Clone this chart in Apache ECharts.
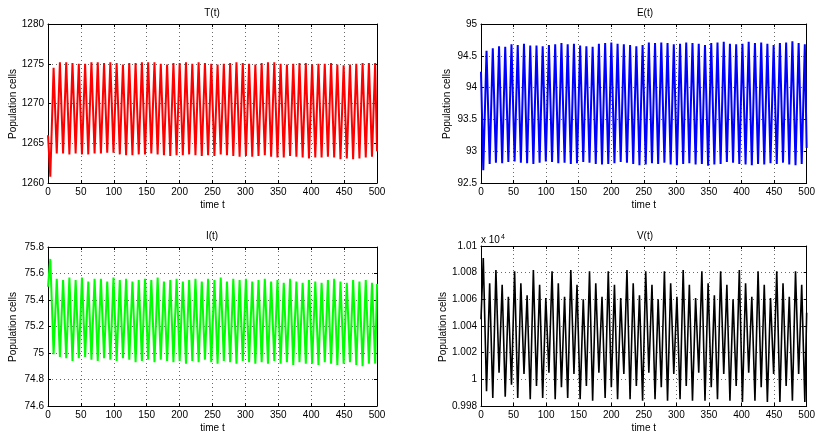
<!DOCTYPE html>
<html><head><meta charset="utf-8">
<script src="https://cdn.jsdelivr.net/npm/echarts@6/dist/echarts.min.js"></script>
<style>html,body{margin:0;padding:0;background:#fff}#c{width:818px;height:434px}</style>
</head><body><div id="c"></div>
<script>
// Extremum times (shared by all panels)
const tExt = [0,3.5,8.5,13.3,18.1,22.9,27.7,32.5,37.2,42.0,46.8,51.6,56.4,61.2,66.0,70.8,75.6,80.4,85.2,90.0,
94.7,99.5,104.3,109.1,113.9,118.7,123.5,128.3,133.1,137.9,142.7,147.4,152.2,157.0,161.8,166.6,171.4,176.2,181.0,185.8,
190.6,195.4,200.1,204.9,209.7,214.5,219.3,224.1,228.9,233.7,238.5,243.3,248.1,252.9,257.7,262.5,267.2,272.0,276.8,281.6,
286.4,291.2,296.0,300.8,305.6,310.4,315.1,319.9,324.7,329.5,334.3,339.1,343.9,348.7,353.5,358.3,363.1,367.9,372.7,377.5,
382.2,387.0,391.8,396.6,401.4,406.2,411.0,415.8,420.6,425.4,430.2,434.9,439.7,444.5,449.3,454.1,458.9,463.7,468.5,473.3,
478.1,482.9,487.7,492.4,497.2,500];

const xTicks = [0,50,100,150,200,250,300,350,400,450,500];

// T(t)
const T_head = [1266.0, 1260.8];
const T_even = [1274.5,1275.2,1275.2,1275.1,1275.0,1275.0,1275.2,1275.2,1275.1,1275.2,
1275.1,1274.9,1275.1,1275.1,1275.2,1275.2,1275.2,1275.0,1274.9,1275.1,
1275.1,1275.2,1275.0,1275.2,1275.1,1275.0,1274.9,1275.0,1275.1,1275.2,
1275.1,1275.0,1274.9,1275.1,1275.2,1275.2,1275.0,1274.9,1275.0,1275.1,
1275.1,1274.9,1275.0,1275.0,1275.1,1274.9,1274.8,1274.9,1275.0,1275.1,
1275.1,1275.1];
const T_odd = [1263.7,1263.7,1263.6,1263.7,1263.6,1263.6,1263.7,1263.7,1263.8,1263.8,
1263.6,1263.5,1263.5,1263.6,1263.6,1263.7,1263.6,1263.5,1263.4,1263.5,
1263.5,1263.6,1263.5,1263.4,1263.5,1263.4,1263.6,1263.5,1263.4,1263.3,
1263.4,1263.3,1263.4,1263.5,1263.3,1263.2,1263.2,1263.4,1263.3,1263.2,
1263.1,1263.2,1263.2,1263.3,1263.2,1263.0,1263.1,1263.0,1263.1,1263.2,
1263.3];
const T_end = 1264.0;
const T_ticks = [1260,1265,1270,1275,1280];

// E(t)
const E_head = [94.25, 92.70];
const E_even = [94.58,94.62,94.65,94.64,94.68,94.67,94.69,94.66,94.66,94.65,
94.67,94.68,94.70,94.68,94.69,94.66,94.65,94.64,94.69,94.70,
94.71,94.69,94.68,94.67,94.65,94.67,94.71,94.70,94.71,94.70,
94.68,94.69,94.71,94.70,94.69,94.67,94.70,94.71,94.72,94.69,
94.68,94.69,94.72,94.70,94.71,94.69,94.67,94.70,94.71,94.73,
94.70,94.68];
const E_odd = [92.80,92.82,92.81,92.83,92.84,92.82,92.81,92.80,92.82,92.84,
92.83,92.81,92.82,92.80,92.81,92.83,92.82,92.80,92.79,92.80,
92.81,92.83,92.82,92.80,92.78,92.79,92.81,92.80,92.82,92.79,
92.78,92.80,92.81,92.79,92.80,92.77,92.79,92.80,92.83,92.82,
92.80,92.79,92.78,92.80,92.79,92.81,92.80,92.82,92.79,92.78,
92.80];
const E_end = 93.05;
const E_ticks = [92.5,93,93.5,94,94.5,95];

// I(t)
const I_head = [75.50, 75.71];
const I_even = [74.99,74.97,74.96,74.94,74.96,74.97,74.95,74.94,74.96,74.95,
74.94,74.96,74.95,74.93,74.94,74.95,74.93,74.95,74.94,74.93,
74.94,74.92,74.94,74.93,74.95,74.93,74.92,74.94,74.93,74.92,
74.94,74.93,74.92,74.93,74.92,74.94,74.92,74.93,74.91,74.93,
74.92,74.92,74.91,74.93,74.92,74.91,74.92,74.93,74.91,74.90,
74.92,74.92];
const I_odd = [75.56,75.55,75.57,75.55,75.57,75.54,75.56,75.56,75.54,75.57,
75.55,75.56,75.54,75.55,75.56,75.55,75.57,75.54,75.55,75.56,
75.54,75.55,75.56,75.54,75.56,75.55,75.57,75.54,75.56,75.55,
75.56,75.54,75.55,75.56,75.54,75.55,75.53,75.56,75.54,75.53,
75.55,75.54,75.53,75.55,75.56,75.54,75.53,75.55,75.54,75.55,
75.53];
const I_end = 75.52;
const I_ticks = [74.6,74.8,75,75.2,75.4,75.6,75.8];

// V(t), in units of 10^4
const V_vals = [1.0045,1.0091,0.9991,1.0072,0.9986,1.0082,1.0005,1.0071,0.9987,1.0062,
0.9996,1.0081,0.9986,1.0072,1.0004,1.0063,0.9985,1.0082,0.9995,1.0071,
0.9986,1.0061,1.0005,1.0081,0.9985,1.0072,0.9994,1.0062,0.9986,1.0082,
1.0004,1.0071,0.9985,1.0060,0.9995,1.0081,0.9984,1.0072,1.0005,1.0062,
0.9986,1.0081,0.9994,1.0071,0.9985,1.0061,1.0004,1.0082,0.9985,1.0072,
0.9995,1.0063,0.9984,1.0081,1.0005,1.0071,0.9985,1.0060,0.9994,1.0081,
0.9984,1.0072,1.0004,1.0062,0.9985,1.0082,0.9995,1.0071,0.9984,1.0061,
1.0005,1.0081,0.9984,1.0072,0.9994,1.0063,0.9985,1.0081,1.0004,1.0071,
0.9984,1.0060,0.9995,1.0082,0.9983,1.0072,1.0005,1.0062,0.9984,1.0081,
0.9994,1.0071,0.9983,1.0061,1.0004,1.0081,0.9983,1.0072,0.9995,1.0062,
0.9984,1.0081,1.0004,1.0071,0.9983,1.0050];
const V_ticks = [0.998,1,1.002,1.004,1.006,1.008,1.01];

function build(head, even, odd, end) {
  const out = [];
  const n = tExt.length;
  for (let k = 0; k < n; k++) {
    let v;
    if (k < head.length) v = head[k];
    else if (k === n - 1) v = end;
    else if (k % 2 === 0) v = even[(k - 2) / 2];
    else v = odd[(k - 3) / 2];
    if (v !== undefined) out.push([tExt[k], v]);
  }
  return out;
}
const T_data = build(T_head, T_even, T_odd, T_end);
const E_data = build(E_head, E_even, E_odd, E_end);
const I_data = build(I_head, I_even, I_odd, I_end);
const V_data = tExt.map((t, i) => [t, V_vals[i]]);

const FONT = 'Liberation Sans, Arial, Helvetica, sans-serif';
const grids = [
  {left: 48, top: 24, width: 329, height: 159},
  {left: 481, top: 24, width: 328, height: 159},
  {left: 48, top: 247, width: 329, height: 160},
  {left: 481, top: 246, width: 328, height: 160}
];
const yTicksAll = [T_ticks, E_ticks, I_ticks, V_ticks];
const lineStyleAxis = {color: '#000', width: 1};
const gridLine = {show: true, lineStyle: {color: '#444', type: [1, 3], width: 0.8}};

function fmt(v) { return String(parseFloat(v.toFixed(4))); }

const xAxes = [], yAxes = [];
grids.forEach((g, i) => {
  xAxes.push({
    type: 'value', gridIndex: i, min: 0, max: 500, interval: 50, position: 'bottom',
    name: 'time t', nameLocation: 'middle', nameGap: 17,
    nameTextStyle: {fontFamily: FONT, fontSize: 10, color: '#000'},
    axisLine: {show: true, onZero: false, lineStyle: lineStyleAxis},
    axisTick: {show: true, inside: true, length: 3, lineStyle: lineStyleAxis},
    axisLabel: {show: true, margin: 4, fontFamily: FONT, fontSize: 10, color: '#000', formatter: fmt},
    splitLine: gridLine
  });
  xAxes.push({
    type: 'value', gridIndex: i, min: 0, max: 500, interval: 50, position: 'top',
    axisLine: {show: true, onZero: false, lineStyle: lineStyleAxis},
    axisTick: {show: true, inside: true, length: 3, lineStyle: lineStyleAxis},
    axisLabel: {show: false}, splitLine: {show: false}
  });
  const yt = yTicksAll[i];
  const ymin = yt[0], ymax = yt[yt.length - 1], yint = yt[1] - yt[0];
  yAxes.push({
    type: 'value', gridIndex: i, min: ymin, max: ymax, interval: yint, position: 'left',
    axisLine: {show: true, onZero: false, lineStyle: lineStyleAxis},
    axisTick: {show: true, inside: true, length: 3, lineStyle: lineStyleAxis},
    axisLabel: {show: true, margin: 4, fontFamily: FONT, fontSize: 10, color: '#000', formatter: fmt},
    splitLine: gridLine
  });
  yAxes.push({
    type: 'value', gridIndex: i, min: ymin, max: ymax, interval: yint, position: 'right',
    axisLine: {show: true, onZero: false, lineStyle: lineStyleAxis},
    axisTick: {show: true, inside: true, length: 3, lineStyle: lineStyleAxis},
    axisLabel: {show: false}, splitLine: {show: false}
  });
});

function mkSeries(i, data, color, w) {
  return {type: 'line', xAxisIndex: 2 * i, yAxisIndex: 2 * i, data: data, showSymbol: false,
    symbol: 'none', lineStyle: {color: color, width: w}, animation: false, silent: true, clip: true};
}

function txt(x, y, s, rot) {
  return {type: 'text', x: x, y: y, rotation: rot || 0,
    style: {text: s, font: '10px ' + FONT, fill: '#000', align: 'center', verticalAlign: 'middle',
      textAlign: 'center', textVerticalAlign: 'middle'}};
}

const chart = echarts.init(document.getElementById('c'), null, {renderer: 'canvas'});
chart.setOption({
  animation: false,
  backgroundColor: '#fff',
  grid: grids,
  xAxis: xAxes,
  yAxis: yAxes,
  series: [
    mkSeries(0, T_data, '#ff0000', 2),
    mkSeries(1, E_data, '#0000ff', 2),
    mkSeries(2, I_data, '#00ff00', 2),
    mkSeries(3, V_data, '#000000', 1.6)
  ],
  graphic: [
    txt(212, 13, 'T(t)'),
    txt(645, 13, 'E(t)'),
    txt(212, 236, 'I(t)'),
    txt(645, 236, 'V(t)'),
    txt(13, 104, 'Population cells', Math.PI / 2),
    txt(447, 104, 'Population cells', Math.PI / 2),
    txt(13, 327, 'Population cells', Math.PI / 2),
    txt(443, 327, 'Population cells', Math.PI / 2),
    {type: 'text', x: 481, y: 240,
      style: {text: '{a|x 10}{b|4}', font: '10px ' + FONT, fill: '#000', verticalAlign: 'middle', textVerticalAlign: 'middle',
        rich: {a: {fontFamily: FONT, fontSize: 10, fill: '#000', color: '#000'},
               b: {fontFamily: FONT, fontSize: 7, fill: '#000', color: '#000', verticalAlign: 'top', padding: [0, 0, 6, 1]}}}}
  ]
});
</script></body></html>
